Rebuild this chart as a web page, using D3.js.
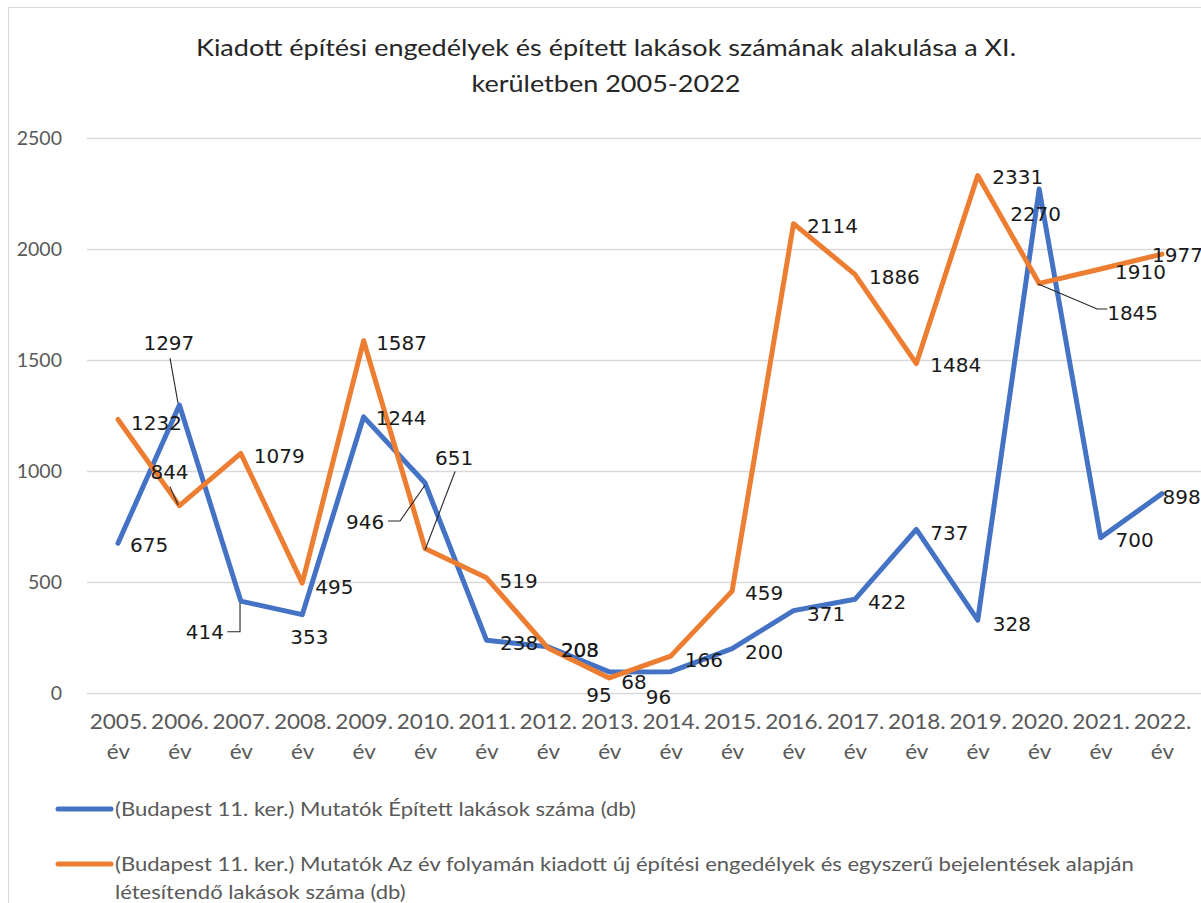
<!DOCTYPE html>
<html>
<head>
<meta charset="utf-8">
<script src="https://cdn.jsdelivr.net/npm/d3@7"></script>
<style>
  html, body { margin: 0; padding: 0; background: #fff; }
  svg { display: block; }
</style>
</head>
<body>
<script>
// Category labels (two lines: year + "év")
const years = ["2005.", "2006.", "2007.", "2008.", "2009.", "2010.", "2011.", "2012.", "2013.",
               "2014.", "2015.", "2016.", "2017.", "2018.", "2019.", "2020.", "2021.", "2022."];
const yearSuffix = "év";

// Épített lakások száma (db)
const built = [675, 1297, 414, 353, 1244, 946, 238, 208, 95, 96, 200, 371, 422, 737, 328, 2270, 700, 898];
// Kiadott engedélyek / bejelentések alapján létesítendő lakások száma (db)
const permits = [1232, 844, 1079, 495, 1587, 651, 519, 203, 68, 166, 459, 2114, 1886, 1484, 2331, 1845, 1910, 1977];

const yTicks = [0, 500, 1000, 1500, 2000, 2500];

const titleLines = ["Kiadott építési engedélyek és épített lakások számának alakulása a XI.",
                    "kerületben 2005-2022"];
const builtName = "(Budapest 11. ker.) Mutatók Épített lakások száma (db)";
const permitsNameLines = ["(Budapest 11. ker.) Mutatók Az év folyamán kiadott új építési engedélyek és egyszerű bejelentések alapján",
                          "létesítendő lakások száma (db)"];

// Data-label placement relative to each point: text start offset, vertical centre offset,
// and optional leader polyline (relative points).
const builtLabelPos = [
  {dx: 12, dy: 2}, {dx: -36, dy: -62, leader: [[-9.4, -47], [-1.4, -2]]},
  {dx: -55, dy: 30.6, leader: [[-13.5, 30.6], [-0.8, 30.6], [-0.8, 2]]},
  {dx: -12, dy: 22}, {dx: 12, dy: 1},
  {dx: -79, dy: 39, leader: [[-37, 38], [-25, 38], [0, 2]]},
  {dx: 13.5, dy: 3}, {dx: 13, dy: 3}, {dx: -23, dy: 23}, {dx: -25, dy: 25},
  {dx: 13, dy: 3}, {dx: 13.5, dy: 3}, {dx: 13, dy: 2.5}, {dx: 14, dy: 3},
  {dx: 15, dy: 4}, {dx: -29, dy: 25}, {dx: 15, dy: 2.5}, {dx: 0.5, dy: 3}
];
const permitsLabelPos = [
  {dx: 13, dy: 3}, {dx: -29, dy: -34, leader: [[-9.4, -19], [-1.4, -0.6]]},
  {dx: 13, dy: 2.5}, {dx: 13, dy: 3.5}, {dx: 12.5, dy: 2.5},
  {dx: 10, dy: -91, leader: [[30, -77], [0, 1.5]]},
  {dx: 13, dy: 3}, {dx: 13, dy: 2}, {dx: 12, dy: 4}, {dx: 14, dy: 4},
  {dx: 13, dy: 2}, {dx: 13.5, dy: 2.5}, {dx: 14, dy: 2}, {dx: 14, dy: 1},
  {dx: 14.5, dy: 1.5}, {dx: 68, dy: 29.5, leader: [[-1, 0.6], [58, 25.6], [68, 25.6]]},
  {dx: 14.5, dy: 3}, {dx: -10, dy: 1}
];

const W = 1201, H = 903;
const BLUE = "#4472C4", ORANGE = "#ED7D31", GRID = "#d9d9d9", AXIS_TEXT = "#595959";
const uiFont = "Lato, 'Open Sans', sans-serif";
const labelFont = "'DejaVu Sans', Verdana, sans-serif";
// the UI font is set slightly wider to approximate the narrow office typeface proportions
const TITLE_STRETCH = 1.175, AXIS_STRETCH = 1.1, LEGEND_STRETCH = 1.13;

const svg = d3.select("body").append("svg").attr("width", W).attr("height", H);

// chart border
svg.append("rect")
  .attr("x", 8.5).attr("y", 7.5).attr("width", W + 20).attr("height", H + 20)
  .attr("fill", "none").attr("stroke", GRID).attr("stroke-width", 1);

const x = d3.scalePoint().domain(years).range([118, 1162]);
const y = d3.scaleLinear().domain([0, 2500]).range([693, 138]);

// gridlines
svg.append("g").selectAll("line").data(yTicks).join("line")
  .attr("x1", 87).attr("x2", W)
  .attr("y1", d => Math.round(y(d)) + 0.5).attr("y2", d => Math.round(y(d)) + 0.5)
  .attr("stroke", GRID).attr("stroke-width", 1.3);

// y axis labels
const yAxis = d3.axisLeft(y).tickValues(yTicks).tickSize(0).tickPadding(0).tickFormat(d3.format("d"));
const yg = svg.append("g").attr("transform", "translate(62,0)").call(yAxis);
yg.select(".domain").remove();
yg.selectAll("text").attr("font-family", uiFont).attr("font-size", 19.5).attr("fill", AXIS_TEXT)
  .attr("dy", "0.35em");

// x axis labels (two lines)
const xAxis = d3.axisBottom(x).tickSize(0).tickPadding(0).tickFormat(() => "");
const xg = svg.append("g").attr("transform", "translate(0,693)").call(xAxis);
xg.select(".domain").remove();
xg.selectAll(".tick text").each(function(d) {
  const t = d3.select(this).text(null).attr("font-family", uiFont).attr("font-size", 20.5)
    .attr("fill", AXIS_TEXT).attr("text-anchor", "middle").attr("y", 0).attr("dy", null)
    .attr("transform", `scale(${AXIS_STRETCH},1)`);
  t.append("tspan").attr("x", 0).attr("y", 36).text(d);
  t.append("tspan").attr("x", 0).attr("y", 66).text(yearSuffix);
});

// lines
const line = d3.line().x((d, i) => x(years[i])).y(d => y(d));
[[built, BLUE], [permits, ORANGE]].forEach(([data, color]) => {
  svg.append("path").datum(data).attr("d", line)
    .attr("fill", "none").attr("stroke", color).attr("stroke-width", 5)
    .attr("stroke-linejoin", "round").attr("stroke-linecap", "round");
});

// data labels with leader lines
function drawLabels(data, pos) {
  const g = svg.append("g");
  data.forEach((v, i) => {
    const px = x(years[i]), py = y(v), p = pos[i];
    if (p.leader) {
      g.append("polyline")
        .attr("points", p.leader.map(([a, b]) => `${px + a},${py + b}`).join(" "))
        .attr("fill", "none").attr("stroke", "#262626").attr("stroke-width", 1.1);
    }
    g.append("text")
      .attr("x", px + p.dx).attr("y", py + p.dy + 7.2)
      .attr("font-family", labelFont).attr("font-size", 20).attr("fill", "#1a1a1a")
      .text(d3.format("d")(v));
  });
}
drawLabels(built, builtLabelPos);
drawLabels(permits, permitsLabelPos);

// title
svg.append("g").selectAll("text").data(titleLines).join("text")
  .attr("transform", (d, i) => `translate(606,${56 + i * 36}) scale(${TITLE_STRETCH},1)`)
  .attr("text-anchor", "middle").attr("font-family", uiFont).attr("font-size", 23)
  .attr("fill", "#262626").text(d => d);

// legend
const legend = svg.append("g");
function legendText(t, ty) {
  legend.append("text").attr("transform", `translate(115,${ty}) scale(${LEGEND_STRETCH},1)`)
    .attr("font-family", uiFont).attr("font-size", 19.5).attr("fill", AXIS_TEXT).text(t);
}
legend.append("line").attr("x1", 58).attr("x2", 111).attr("y1", 809).attr("y2", 809)
  .attr("stroke", BLUE).attr("stroke-width", 5).attr("stroke-linecap", "round");
legendText(builtName, 816);
legend.append("line").attr("x1", 58).attr("x2", 111).attr("y1", 864).attr("y2", 864)
  .attr("stroke", ORANGE).attr("stroke-width", 5).attr("stroke-linecap", "round");
permitsNameLines.forEach((t, i) => legendText(t, 871 + i * 28));
</script>
</body>
</html>
